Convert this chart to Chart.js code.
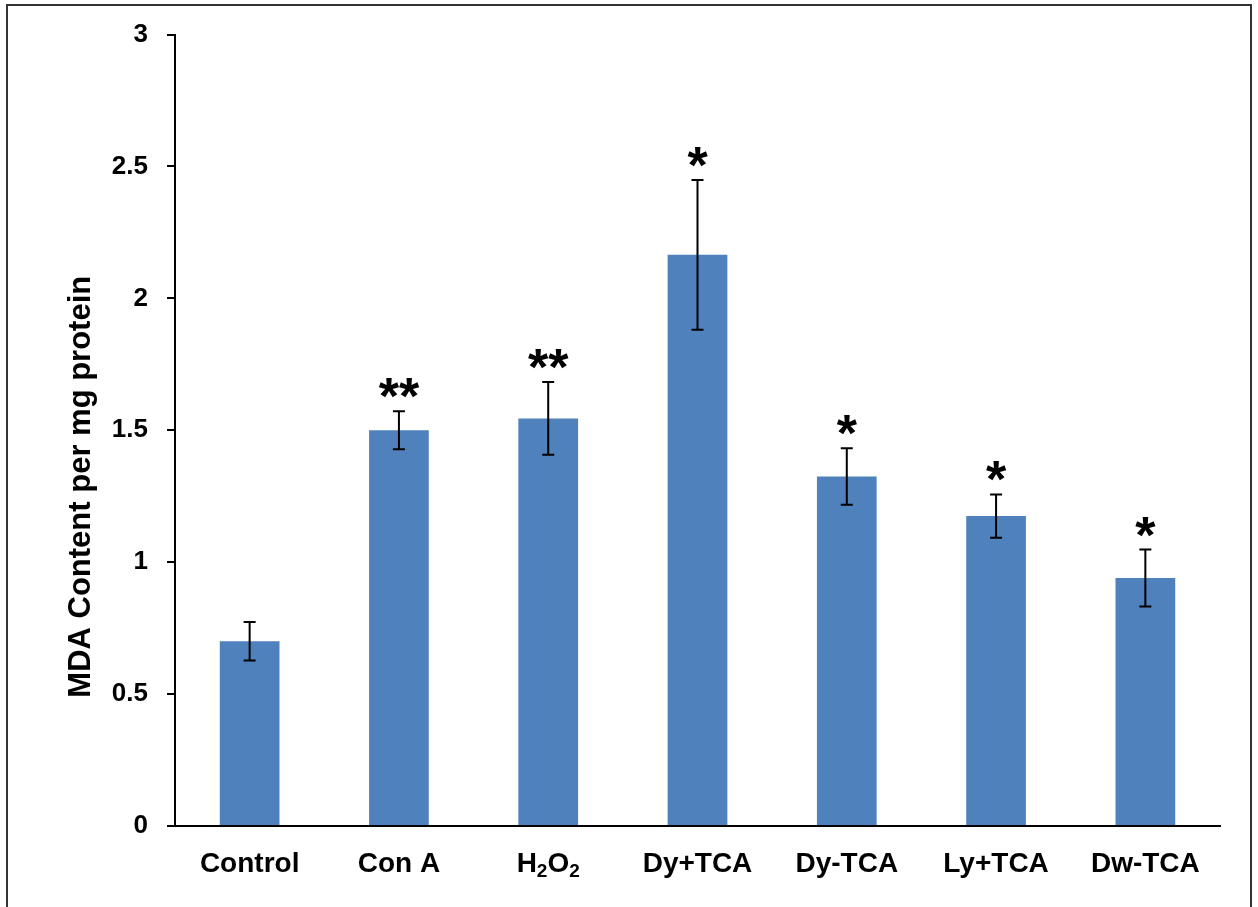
<!DOCTYPE html>
<html>
<head>
<meta charset="utf-8">
<title>MDA Content</title>
<script src="https://cdn.jsdelivr.net/npm/chart.js@4.4.1/dist/chart.umd.min.js"></script>
<style>
  html, body { margin: 0; padding: 0; background: #fff; overflow: hidden; }
  #wrap { position: relative; width: 1258px; height: 907px; }
  #frame { position: absolute; left: 6px; top: 4px; width: 1242px; height: 1000px;
           border: 2px solid #333; pointer-events: none; }
</style>
</head>
<body>
<div id="wrap">
  <canvas id="barChart" width="1258" height="907"></canvas>
  <div id="frame"></div>
</div>
<script>
var categorias = ["Control", "Con A", "H\u2082O\u2082", "Dy+TCA", "Dy-TCA", "Ly+TCA", "Dw-TCA"];
var valores = [0.70, 1.50, 1.545, 2.165, 1.325, 1.175, 0.94];
var errores = [0.073, 0.072, 0.138, 0.284, 0.107, 0.082, 0.108];
var marcas = ["", "**", "**", "*", "*", "*", "*"];
var ticksY = ["0", "0.5", "1", "1.5", "2", "2.5", "3"];

var fuente = '"Liberation Sans", Arial, sans-serif';
var subs = /[\u2080-\u2089]/;

// etiqueta con subindices (H2O2)
function etiquetaSub(ctx, texto, x, y) {
    var partes = [];
    for (var k = 0; k < texto.length; k++) {
        var c = texto.charCodeAt(k);
        if (c >= 0x2080 && c <= 0x2089) partes.push({ t: String(c - 0x2080), s: true });
        else partes.push({ t: texto[k], s: false });
    }
    var total = 0;
    partes.forEach(function(p) {
        ctx.font = "bold " + (p.s ? 19 : 28) + "px " + fuente;
        p.w = ctx.measureText(p.t).width;
        total += p.w;
    });
    var cx = x - total / 2;
    ctx.textAlign = "left";
    partes.forEach(function(p) {
        ctx.font = "bold " + (p.s ? 19 : 28) + "px " + fuente;
        ctx.fillText(p.t, cx, p.s ? y + 5 : y);
        cx += p.w;
    });
}

// barras de error + asteriscos + titulo del eje
var extras = {
    id: 'extras',
    afterDatasetsDraw: function(chart) {
        var ctx = chart.ctx;
        var y = chart.scales.y;
        var meta = chart.getDatasetMeta(0);
        var area = chart.chartArea;
        ctx.save();
        ctx.strokeStyle = "#000";
        ctx.lineWidth = 2;
        ctx.fillStyle = "#000";
        ctx.textBaseline = "alphabetic";
        for (var i = 0; i < valores.length; i++) {
            var x = meta.data[i].x;
            var top = y.getPixelForValue(valores[i] + errores[i]);
            var bot = y.getPixelForValue(valores[i] - errores[i]);
            ctx.beginPath();
            ctx.moveTo(x, top); ctx.lineTo(x, bot);
            ctx.moveTo(x - 6, top); ctx.lineTo(x + 6, top);
            ctx.moveTo(x - 6, bot); ctx.lineTo(x + 6, bot);
            ctx.stroke();
            if (marcas[i]) {
                ctx.font = "bold 52px " + fuente;
                ctx.textAlign = "center";
                var m = ctx.measureText(marcas[i]);
                ctx.fillText(marcas[i], x, top - 13 - m.actualBoundingBoxDescent);
            }
            if (subs.test(categorias[i])) {
                etiquetaSub(ctx, categorias[i], chart.scales.x.getPixelForTick(i), area.bottom + 46);
            }
        }
        // titulo eje Y
        ctx.font = "bold 31px " + fuente;
        ctx.textAlign = "center";
        ctx.translate(90, area.bottom - (area.bottom - area.top) * 0.4287);
        ctx.rotate(-Math.PI / 2);
        ctx.fillText("MDA Content per mg protein", 0, 0);
        ctx.restore();
    }
};

function graficar() {
    var chartDiv = document.getElementById("barChart");
    var myChart = new Chart(chartDiv, {
        type: 'bar',
        data: {
            labels: categorias,
            datasets: [{
                data: valores,
                backgroundColor: "#4F81BD",
                barPercentage: 0.4,
                categoryPercentage: 1.0
            }]
        },
        options: {
            responsive: false,
            animation: false,
            layout: { padding: { top: 34, right: 38, left: 0, bottom: 0 } },
            plugins: { legend: { display: false }, tooltip: { enabled: false } },
            scales: {
                x: {
                    grid: { display: false, drawTicks: false },
                    border: { display: true, color: "#000", width: 2 },
                    ticks: {
                        color: "#000",
                        font: { family: fuente, size: 28, weight: 'bold' },
                        padding: 21,
                        maxRotation: 0,
                        autoSkip: false,
                        callback: function(v, i) { return subs.test(categorias[i]) ? "" : categorias[i]; }
                    },
                    afterFit: function(scale) { scale.height = 81; }
                },
                y: {
                    min: 0,
                    max: 3,
                    grid: { drawOnChartArea: false, drawTicks: true, tickLength: 8, color: "#000", lineWidth: 2 },
                    border: { display: true, color: "#000", width: 2 },
                    ticks: {
                        stepSize: 0.5,
                        color: "#000",
                        padding: 19,
                        font: { family: fuente, size: 26, weight: 'bold' },
                        callback: function(v, i) { return ticksY[i]; }
                    },
                    afterFit: function(scale) { scale.width = 175; }
                }
            }
        },
        plugins: [extras]
    });
}

graficar();
</script>
</body>
</html>
